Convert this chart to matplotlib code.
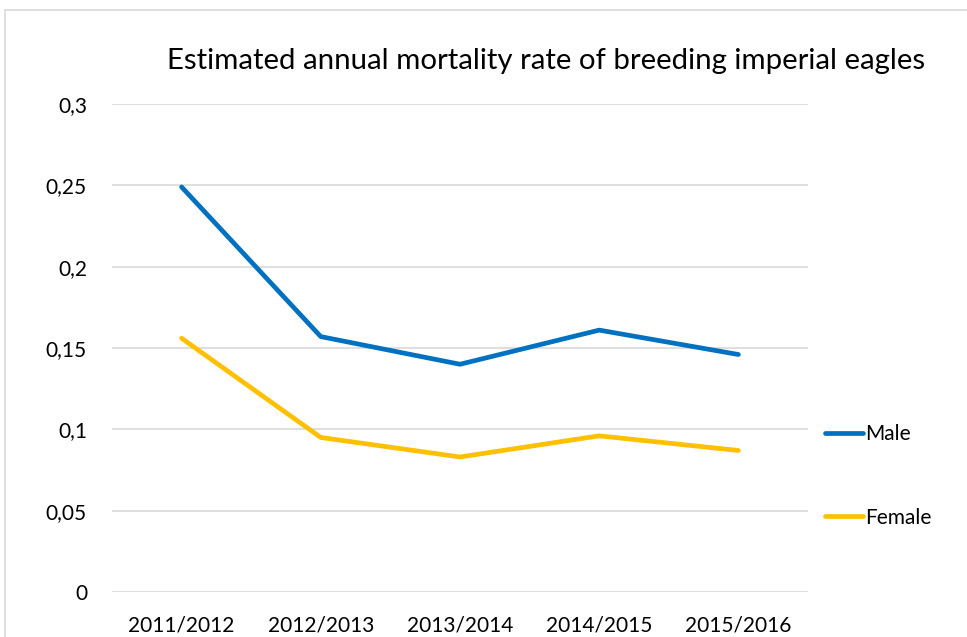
import matplotlib.pyplot as plt
from matplotlib.patches import Rectangle
from matplotlib.ticker import FuncFormatter

seasons = ["2011/2012", "2012/2013", "2013/2014", "2014/2015", "2015/2016"]
male = [0.249, 0.157, 0.140, 0.161, 0.146]
female = [0.156, 0.095, 0.083, 0.096, 0.087]

plt.rcParams['font.family'] = ['Lato', 'DejaVu Sans']

fig = plt.figure(figsize=(9.67, 6.37), dpi=100)
fig.patches.append(Rectangle((5 / 967, -0.05), 1.1, 1 - 10 / 637 + 0.05,
                             transform=fig.transFigure, fill=False,
                             edgecolor="#d9d9d9", linewidth=1.2))

ax = fig.add_axes([112 / 967, 45 / 637, 696 / 967, 488 / 637])
x = range(len(seasons))
ax.plot(x, male, color="#0070C0", linewidth=3.4, label="Male", solid_capstyle="round")
ax.plot(x, female, color="#FFC000", linewidth=3.4, label="Female", solid_capstyle="round")

ax.set_xlim(-0.5, len(seasons) - 0.5)
ax.set_ylim(0, 0.3)
ax.set_yticks([0, 0.05, 0.1, 0.15, 0.2, 0.25, 0.3])
ax.yaxis.set_major_formatter(FuncFormatter(lambda v, p: ("%g" % round(v, 2)).replace(".", ",")))
ax.set_xticks(list(x))
ax.set_xticklabels(seasons)
ax.tick_params(length=0, labelsize=15, colors="#000000")
ax.tick_params(axis="x", pad=17)
ax.tick_params(axis="y", pad=18)
ax.grid(axis="y", color="#d9d9d9", linewidth=1.2)
ax.set_axisbelow(True)
for s in ax.spines.values():
    s.set_visible(False)

fig.text(0.565, 1 - 61 / 637, "Estimated annual mortality rate of breeding imperial eagles",
         ha="center", va="center", fontsize=21.2)

ax.legend(loc="center left", bbox_to_anchor=(0.998, 0.238), frameon=False,
          fontsize=15, handlelength=1.8, handletextpad=0.1, labelspacing=3.05)

fig.savefig("out.png", dpi=100)
